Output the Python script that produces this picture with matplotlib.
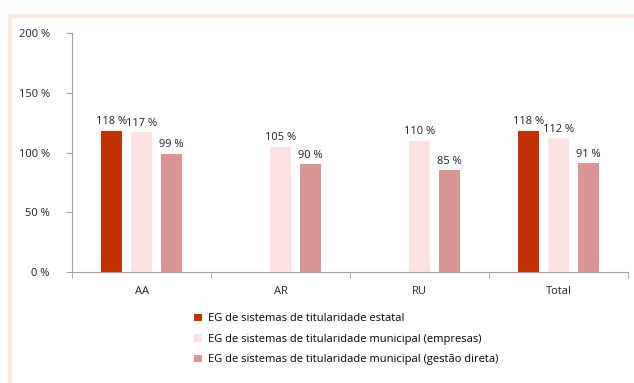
import numpy as np
import matplotlib.pyplot as plt
from matplotlib.lines import Line2D
from matplotlib.patches import Patch

categories = ['AA', 'AR', 'RU', 'Total']
estatal = [118, np.nan, np.nan, 118]
municipal_empresas = [117, 105, 110, 112]
municipal_direta = [99, 90, 85, 91]
series_names = [
    'EG de sistemas de titularidade estatal',
    'EG de sistemas de titularidade municipal (empresas)',
    'EG de sistemas de titularidade municipal (gestão direta)',
]
colors = ['#c33000', '#ffe1e1', '#d99594']

plt.rcParams['font.family'] = ['Open Sans', 'DejaVu Sans']

fig = plt.figure(figsize=(6.34, 3.83), dpi=100)
ax = fig.add_axes([0.1136, 0.2898, 0.877, 0.624])

# peach frame lines along the top and left edges
border = '#fde9db'
fig.add_artist(Line2D([8 / 634, 1], [1 - 15.5 / 383] * 2, color=border, lw=3,
                      solid_capstyle='butt', transform=fig.transFigure))
fig.add_artist(Line2D([10 / 634] * 2, [0, 1 - 14 / 383], color=border, lw=3,
                      solid_capstyle='butt', transform=fig.transFigure))

x = np.arange(len(categories))
width = 0.155
step = 0.216
for i, (vals, c) in enumerate(zip([estatal, municipal_empresas, municipal_direta], colors)):
    pos = x + (i - 1) * step
    ax.bar(pos, vals, width=width, color=c, zorder=2)
    for p, v in zip(pos, vals):
        if not np.isnan(v):
            ax.text(p, v + 3, f'{v:.0f} %', ha='center', va='bottom', fontsize=8, color='#222222')

ax.set_xlim(-0.5, len(categories) - 0.5)
ax.set_ylim(0, 200)
ax.set_yticks([0, 50, 100, 150, 200])
ax.set_yticklabels([f'{t} %' for t in [0, 50, 100, 150, 200]], fontsize=8, color='#222222')
ax.set_xticks(x)
ax.set_xticklabels(categories, fontsize=8, color='#222222')
ax.tick_params(axis='x', length=0, pad=10)
ax.set_xticks(np.arange(len(categories) + 1) - 0.5, minor=True)
ax.tick_params(axis='x', which='minor', length=4, color='#a0a0a0', direction='out')
ax.tick_params(axis='y', length=4, color='#a0a0a0', pad=12)
for s in ['top', 'right']:
    ax.spines[s].set_visible(False)
for s in ['left', 'bottom']:
    ax.spines[s].set_color('#a0a0a0')
    ax.spines[s].set_linewidth(0.8)

handles = [Patch(facecolor=c, edgecolor='none') for c in colors]
fig.legend(handles, series_names, loc='upper left', bbox_to_anchor=(190 / 634, 1 - 309 / 383),
           frameon=False, fontsize=8, handlelength=0.7, handleheight=0.7,
           handletextpad=0.5, labelspacing=0.85, borderaxespad=0)

fig.savefig('out.png', dpi=100)
